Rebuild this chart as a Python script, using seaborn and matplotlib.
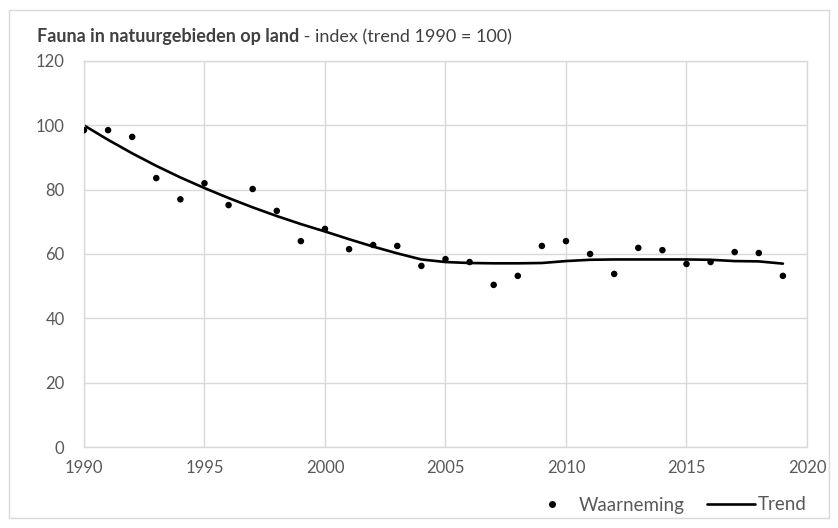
import numpy as np
import pandas as pd
import matplotlib.pyplot as plt
import seaborn as sns
from matplotlib.lines import Line2D
from matplotlib.patches import Rectangle

years = list(range(1990, 2020))
waarneming = [98.5, 98.5, 96.4, 83.6, 77.0, 82.0, 75.2, 80.2, 73.4, 64.0,
              67.8, 61.5, 62.8, 62.5, 56.3, 58.4, 57.5, 50.4, 53.2, 62.5,
              64.0, 60.0, 53.8, 61.9, 61.2, 56.9, 57.5, 60.6, 60.3, 53.2]
trend = [100.0, 95.5, 91.3, 87.4, 83.8, 80.5, 77.4, 74.5, 71.8, 69.3,
         67.0, 64.6, 62.3, 60.2, 58.3, 57.5, 57.2, 57.1, 57.1, 57.2,
         57.8, 58.2, 58.3, 58.3, 58.3, 58.3, 58.2, 57.8, 57.7, 57.0]

df = pd.DataFrame({"jaar": years, "waarneming": waarneming, "trend": trend})

sns.set_style("white")
plt.rcParams["font.family"] = ["Lato", "DejaVu Sans"]

grey_txt = "#595959"
grid_col = "#d9d9d9"

fig = plt.figure(figsize=(8.38, 5.28), dpi=100)
ax = fig.add_axes([0.1002, 0.1534, 0.8628, 0.7311])

sns.lineplot(data=df, x="jaar", y="trend", color="black", linewidth=1.9, ax=ax)
sns.scatterplot(data=df, x="jaar", y="waarneming", color="black", s=22,
                edgecolor="none", ax=ax, zorder=3)

ax.set_xlim(1990, 2020)
ax.set_ylim(0, 120)
ax.set_xticks(range(1990, 2021, 5))
ax.set_yticks(range(0, 121, 20))
ax.grid(True, color=grid_col, linewidth=1)
for s in ax.spines.values():
    s.set_color(grid_col)
    s.set_linewidth(1)
ax.tick_params(length=0, labelsize=12, labelcolor=grey_txt)
ax.tick_params(axis="y", pad=14)
ax.tick_params(axis="x", pad=9)
ax.set_xlabel("")
ax.set_ylabel("")

t1 = fig.text(37 / 838, 1 - 42 / 528, "Fauna in natuurgebieden op land",
              fontsize=13, fontweight="bold", color="#404040")
ax.annotate(" - index (trend 1990 = 100)", xy=(1, 0), xycoords=t1,
            va="bottom", ha="left", fontsize=13, color="#404040")

handles = [Line2D([], [], marker="o", color="black", linestyle="none", markersize=4),
           Line2D([], [], color="black", linewidth=1.9)]
fig.legend(handles, ["Waarneming", "Trend"], ncol=2, frameon=False,
           loc="center right", bbox_to_anchor=(0.962, 1 - 505 / 528),
           fontsize=13.5, labelcolor=grey_txt, handlelength=2.6,
           handletextpad=0.1, columnspacing=1.2, borderpad=0, borderaxespad=0)

fig.patches.append(Rectangle((9 / 838, 1 - 518 / 528), 820 / 838, 508 / 528,
                             transform=fig.transFigure, fill=False,
                             edgecolor=grid_col, linewidth=1))

fig.savefig("out.png", dpi=100)
